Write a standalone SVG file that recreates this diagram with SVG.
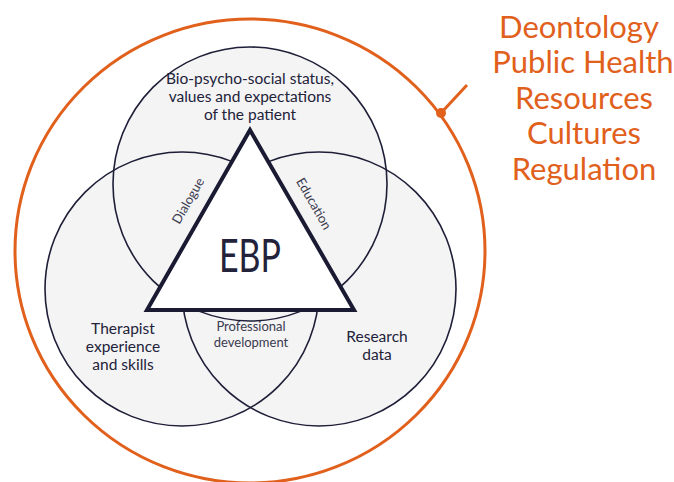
<svg xmlns="http://www.w3.org/2000/svg" width="674" height="482" viewBox="0 0 674 482">
<style>
.f{fill:#f4f4f4;stroke:none}
.c{fill:none;stroke:#1e1e38;stroke-width:1.6}
.t{font-family:Lato,"Open Sans",sans-serif;fill:#22223a;text-anchor:middle}
.m{font-size:15.5px}
.s{font-size:13px;fill:#3a3a50}
.o{font-family:Lato,"Open Sans",sans-serif;fill:#e0601c;font-size:31px;text-anchor:middle}
</style>
<rect width="674" height="482" fill="#ffffff"/>
<g id="context">
<ellipse cx="250" cy="251" rx="235" ry="232" fill="none" stroke="#e0601c" stroke-width="3"/>
</g>
<g id="connectors">
<line x1="441" y1="113" x2="467" y2="85" stroke="#e0601c" stroke-width="3"/>
<circle cx="441" cy="113" r="5" fill="#e0601c"/>
</g>
<g id="patient">
<circle class="f" cx="250" cy="184" r="137"/>
</g>
<g id="therapist">
<circle class="f" cx="182" cy="289" r="137"/>
</g>
<g id="research">
<circle class="f" cx="319" cy="289" r="137"/>
</g>
<g id="outlines">
<circle class="c" cx="250" cy="184" r="137"/>
<circle class="c" cx="182" cy="289" r="137"/>
<circle class="c" cx="319" cy="289" r="137"/>
</g>
<g id="ebp">
<polygon points="250,130 147,310 354,310" fill="#ffffff" stroke="#1a1a33" stroke-width="4" stroke-linejoin="miter"/>
<text class="t" x="250" y="272" font-size="46" textLength="62" lengthAdjust="spacingAndGlyphs">EBP</text>
</g>
<g id="labels">
<text class="t m" x="250" y="84">Bio-psycho-social status,</text>
<text class="t m" x="250" y="102">values and expectations</text>
<text class="t m" x="250" y="120">of the patient</text>
<text class="t m" x="123" y="334">Therapist</text>
<text class="t m" x="123" y="352">experience</text>
<text class="t m" x="123" y="370">and skills</text>
<text class="t m" x="377" y="342">Research</text>
<text class="t m" x="377" y="360">data</text>
<text class="t s" x="251" y="331">Professional</text>
<text class="t s" x="251" y="347">development</text>
<text class="t s" transform="translate(192,203) rotate(-60)">Dialogue</text>
<text class="t s" transform="translate(310,206) rotate(60)">Education</text>
</g>
<g id="factors">
<text class="o" x="579" y="38">Deontology</text>
<text class="o" x="583" y="73">Public Health</text>
<text class="o" x="584" y="109">Resources</text>
<text class="o" x="584" y="144">Cultures</text>
<text class="o" x="584" y="180">Regulation</text>
</g>
</svg>
